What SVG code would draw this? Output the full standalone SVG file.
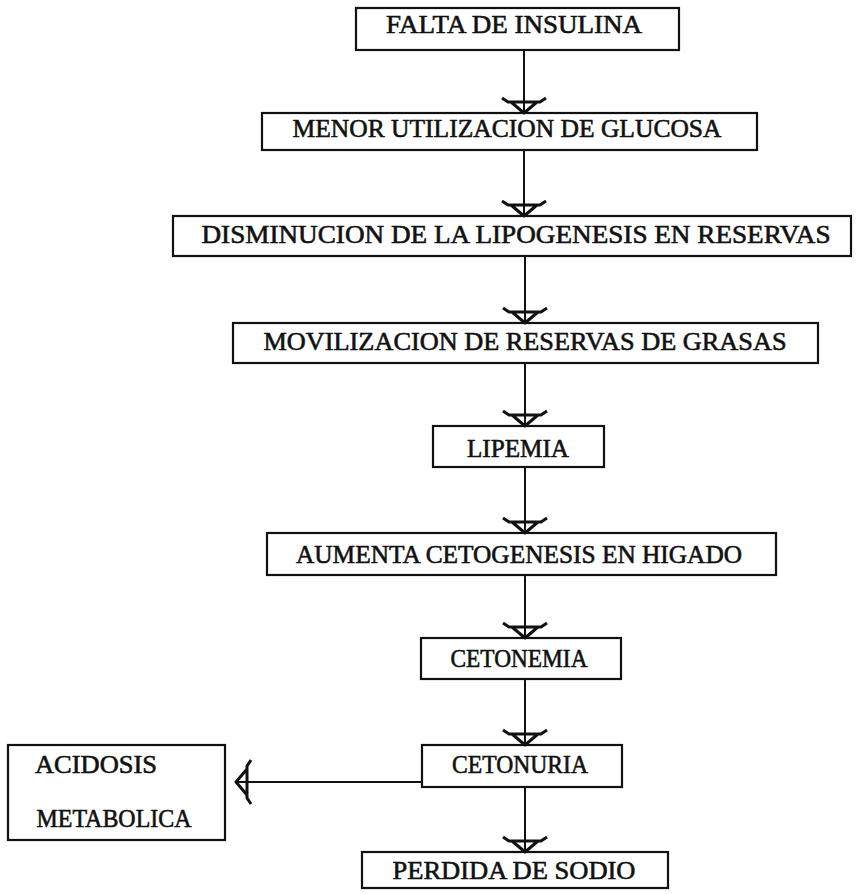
<svg xmlns="http://www.w3.org/2000/svg" width="857" height="894" viewBox="0 0 857 894">
<style>
.box{fill:none;stroke:#111;stroke-width:2.2}
.t{font-family:"Liberation Serif","DejaVu Serif",serif;font-size:26px;fill:#111;stroke:#111;stroke-width:0.6;text-anchor:middle;dominant-baseline:central}
.c{fill:none;stroke:#111;stroke-width:2}
</style>
<defs>
<marker id="ah" markerUnits="userSpaceOnUse" markerWidth="50" markerHeight="50" viewBox="-25 -25 50 50" refX="0" refY="0" orient="auto" overflow="visible">
<path d="M-15,-22 L-11,-16 L-11,16 L-15,22 M-11,-13 L0,0 L-11,13" fill="none" stroke="#111" stroke-width="3" stroke-linejoin="round"/>
</marker>
</defs>
<rect width="857" height="894" fill="#fff"/>
<g id="connectors">
<line class="c" x1="524" y1="50" x2="524" y2="113" marker-end="url(#ah)"/>
<line class="c" x1="524" y1="150" x2="524" y2="216" marker-end="url(#ah)"/>
<line class="c" x1="525" y1="256" x2="525" y2="323" marker-end="url(#ah)"/>
<line class="c" x1="525" y1="363" x2="525" y2="426" marker-end="url(#ah)"/>
<line class="c" x1="525" y1="467" x2="525" y2="533" marker-end="url(#ah)"/>
<line class="c" x1="525" y1="575" x2="525" y2="638" marker-end="url(#ah)"/>
<line class="c" x1="525" y1="679" x2="525" y2="745" marker-end="url(#ah)"/>
<line class="c" x1="525" y1="787" x2="525" y2="852" marker-end="url(#ah)"/>
<line class="c" x1="422" y1="782" x2="236" y2="782" marker-end="url(#ah)"/>
</g>
<g id="n1"><rect class="box" x="356" y="8" width="323" height="42"/><text class="t" x="514" y="24" textLength="256" lengthAdjust="spacingAndGlyphs">FALTA DE INSULINA</text></g>
<g id="n2"><rect class="box" x="262" y="113" width="495" height="37"/><text class="t" x="507" y="128" textLength="429" lengthAdjust="spacingAndGlyphs">MENOR UTILIZACION DE GLUCOSA</text></g>
<g id="n3"><rect class="box" x="173" y="216" width="678" height="40"/><text class="t" x="516" y="234" textLength="629" lengthAdjust="spacingAndGlyphs">DISMINUCION DE LA LIPOGENESIS EN RESERVAS</text></g>
<g id="n4"><rect class="box" x="233" y="323" width="585" height="40"/><text class="t" x="525" y="341" textLength="523" lengthAdjust="spacingAndGlyphs">MOVILIZACION DE RESERVAS DE GRASAS</text></g>
<g id="n5"><rect class="box" x="433" y="426" width="171" height="41"/><text class="t" x="518" y="448" textLength="102" lengthAdjust="spacingAndGlyphs">LIPEMIA</text></g>
<g id="n6"><rect class="box" x="267" y="533" width="509" height="42"/><text class="t" x="519" y="554" textLength="446" lengthAdjust="spacingAndGlyphs">AUMENTA CETOGENESIS EN HIGADO</text></g>
<g id="n7"><rect class="box" x="421" y="638" width="200" height="41"/><text class="t" x="519" y="658" textLength="137" lengthAdjust="spacingAndGlyphs">CETONEMIA</text></g>
<g id="n8"><rect class="box" x="422" y="745" width="200" height="42"/><text class="t" x="520" y="764" textLength="136" lengthAdjust="spacingAndGlyphs">CETONURIA</text></g>
<g id="n9"><rect class="box" x="362" y="852" width="306" height="36"/><text class="t" x="514" y="870" textLength="243" lengthAdjust="spacingAndGlyphs">PERDIDA DE SODIO</text></g>
<g id="n10"><rect class="box" x="8" y="745" width="217" height="95"/><text class="t" x="96" y="764" textLength="122" lengthAdjust="spacingAndGlyphs">ACIDOSIS</text><text class="t" x="114" y="818" textLength="155" lengthAdjust="spacingAndGlyphs">METABOLICA</text></g>
</svg>
